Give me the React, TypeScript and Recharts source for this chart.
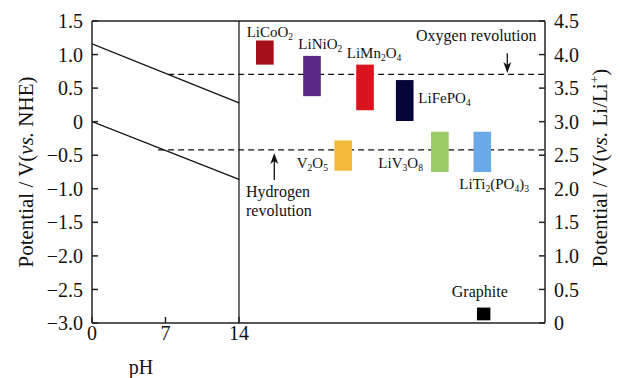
import {
  ComposedChart,
  XAxis,
  YAxis,
  Line,
  ReferenceLine,
  ReferenceArea,
  ReferenceDot,
  Label,
} from "recharts";

const phTicks = [0, 7, 14];
const nheTicks = [-3, -2.5, -2, -1.5, -1, -0.5, 0, 0.5, 1, 1.5];
const liTicks = [0, 0.5, 1, 1.5, 2, 2.5, 3, 3.5, 4, 4.5];

// water stability lines against pH (V vs NHE)
const oxygenLine = [
  { ph: 0, v: 1.16 },
  { ph: 14, v: 0.28 },
];
const hydrogenLine = [
  { ph: 0, v: 0 },
  { ph: 14, v: -0.86 },
];

// dashed levels (V vs NHE) and the pH where each leaves its sloped line
const levelValues = [0.705, -0.42];
const levelStart = [7.25, 6.3];

// electrode materials, potential ranges in V vs Li/Li+
const materials = [
  "LiCoO_{2}",
  "LiNiO_{2}",
  "LiMn_{2}O_{4}",
  "LiFePO_{4}",
  "V_{2}O_{5}",
  "LiV_{3}O_{8}",
  "LiTi_{2}(PO_{4})_{3}",
  "Graphite",
];
const materialSlot = [16.46, 20.95, 26.0, 29.78, 23.92, 33.13, 37.17, 37.3];
const materialTop = [4.21, 3.98, 3.85, 3.62, 2.72, 2.85, 2.85, 0.23];
const materialBottom = [3.85, 3.38, 3.17, 3.01, 2.27, 2.25, 2.25, 0.04];
const materialColors = [
  "#a50f1a",
  "#5b2a86",
  "#d9141e",
  "#050538",
  "#f4b93a",
  "#99cc66",
  "#6aaae8",
  "#000000",
];

// label anchors (x in pH units, y in V vs Li)
const labelX = [14.73, 19.65, 24.26, 31.08, 19.49, 27.27, 34.98, 34.26];
const labelY = [4.266, 4.083, 3.944, 3.273, 2.305, 2.305, 1.996, 0.391];

const X_MAX = 43.14;
const FONT = "'Liberation Serif', 'Times New Roman', serif";
const INK = "#111";
const AXIS = "#222";

type Seg = { t: string; k: string };

const parse = (s: string): Seg[] => {
  const out: Seg[] = [];
  const re = /([_^*])\{([^}]*)\}/g;
  let last = 0;
  let m: RegExpExecArray | null;
  while ((m = re.exec(s))) {
    if (m.index > last) out.push({ t: s.slice(last, m.index), k: "" });
    out.push({ t: m[2], k: m[1] });
    last = re.lastIndex;
  }
  if (last < s.length) out.push({ t: s.slice(last), k: "" });
  return out;
};

const Rich = ({ x, y, text, size, anchor = "start", rotate = false }: any) => {
  let shift = 0;
  return (
    <text
      x={x}
      y={y}
      fontSize={size}
      fontFamily={FONT}
      fill={INK}
      textAnchor={anchor}
      transform={rotate ? `rotate(-90 ${x} ${y})` : undefined}
    >
      {parse(text).map((s, i) => {
        const target = s.k === "_" ? size * 0.2 : s.k === "^" ? -size * 0.4 : 0;
        const dy = target - shift;
        shift = target;
        return (
          <tspan
            key={i}
            dy={dy}
            fontSize={s.k === "_" || s.k === "^" ? size * 0.64 : size}
            fontStyle={s.k === "*" ? "italic" : undefined}
          >
            {s.t}
          </tspan>
        );
      })}
    </text>
  );
};

const fmt = (v: number) => (v === 0 ? "0" : v.toFixed(1).replace("-", "\u2212"));

const tickStyle = { fontSize: 20, fill: INK, fontFamily: FONT };

export default function App() {
  return (
    <div style={{ position: "fixed", left: 0, top: 0, background: "#fff" }}>
      <ComposedChart width={620} height={378} margin={{ top: 21, right: 0, bottom: 0, left: 0 }}>
        <XAxis
          dataKey="ph"
          type="number"
          domain={[0, X_MAX]}
          allowDataOverflow
          ticks={phTicks}
          interval={0}
          height={55}
          tick={tickStyle}
          tickSize={-6}
          tickMargin={9}
          stroke={AXIS}
          strokeWidth={1.5}
        >
          <Label
            content={({ viewBox }: any) => (
              <Rich x={viewBox.x + 49} y={viewBox.y + 51} text="pH" size={20} anchor="middle" />
            )}
          />
        </XAxis>
        <YAxis
          yAxisId="nhe"
          type="number"
          domain={[-3, 1.5]}
          allowDataOverflow
          ticks={nheTicks}
          interval={0}
          width={92}
          tick={tickStyle}
          tickFormatter={fmt}
          tickSize={-6}
          tickMargin={15}
          stroke={AXIS}
          strokeWidth={1.5}
        >
          <Label
            content={({ viewBox }: any) => (
              <Rich
                x={viewBox.x + 33}
                y={viewBox.y + 151}
                text="Potential / V(*{vs.} NHE)"
                size={21}
                anchor="middle"
                rotate
              />
            )}
          />
        </YAxis>
        <YAxis
          yAxisId="li"
          type="number"
          orientation="right"
          domain={[0, 4.5]}
          allowDataOverflow
          ticks={liTicks}
          interval={0}
          width={75}
          tick={tickStyle}
          tickFormatter={fmt}
          tickSize={-6}
          tickMargin={15}
          stroke={AXIS}
          strokeWidth={1.5}
        >
          <Label
            content={({ viewBox }: any) => (
              <Rich
                x={viewBox.x + 62}
                y={viewBox.y + 147}
                text="Potential / V(*{vs.} Li/Li^{+})"
                size={21}
                anchor="middle"
                rotate
              />
            )}
          />
        </YAxis>

        <ReferenceLine yAxisId="nhe" y={1.5} stroke={AXIS} strokeWidth={1.5} />
        <ReferenceLine yAxisId="nhe" x={14} stroke={AXIS} strokeWidth={1.3} />

        <Line
          data={oxygenLine}
          dataKey="v"
          yAxisId="nhe"
          type="linear"
          stroke={INK}
          strokeWidth={1.3}
          dot={false}
          isAnimationActive={false}
        />
        <Line
          data={hydrogenLine}
          dataKey="v"
          yAxisId="nhe"
          type="linear"
          stroke={INK}
          strokeWidth={1.3}
          dot={false}
          isAnimationActive={false}
        />

        {levelValues.map((v, i) => (
          <ReferenceLine
            key={`lvl${i}`}
            yAxisId="nhe"
            segment={[
              { x: levelStart[i], y: v },
              { x: X_MAX, y: v },
            ]}
            stroke={INK}
            strokeWidth={1.2}
            strokeDasharray="6 4"
          />
        ))}

        {materials.map((m, i) => {
          const w = m === "Graphite" ? 0.64 : 0.84;
          return (
            <ReferenceArea
              key={m}
              yAxisId="li"
              x1={materialSlot[i] - w}
              x2={materialSlot[i] + w}
              y1={materialBottom[i]}
              y2={materialTop[i]}
              fill={materialColors[i]}
              fillOpacity={1}
              stroke="none"
              zIndex={450}
            />
          );
        })}

        {materials.map((m, i) => (
          <ReferenceDot
            key={`lab${m}`}
            yAxisId="li"
            x={labelX[i]}
            y={labelY[i]}
            r={0}
            zIndex={2000}
            shape={(p: any) => (
              <Rich x={p.cx} y={p.cy} text={m} size={m === "Graphite" ? 16 : 15} />
            )}
          />
        ))}

        {/* oxygen evolution annotation */}
        <ReferenceDot
          yAxisId="li"
          x={30.86}
          y={4.209}
          r={0}
          shape={(p: any) => <Rich x={p.cx} y={p.cy} text="Oxygen revolution" size={16} />}
        />
        <ReferenceLine
          yAxisId="li"
          segment={[
            { x: 39.55, y: 4.02 },
            { x: 39.55, y: 3.8 },
          ]}
          stroke={INK}
          strokeWidth={1.3}
        />
        <ReferenceDot
          yAxisId="li"
          x={39.55}
          y={3.725}
          r={0}
          shape={(p: any) => (
            <path d={`M${p.cx},${p.cy} l-4,-11 l4,3 l4,-3 z`} fill={INK} />
          )}
        />

        {/* hydrogen evolution annotation */}
        <ReferenceDot
          yAxisId="li"
          x={14.67}
          y={1.877}
          r={0}
          shape={(p: any) => <Rich x={p.cx} y={p.cy} text="Hydrogen" size={16} />}
        />
        <ReferenceDot
          yAxisId="li"
          x={14.67}
          y={1.594}
          r={0}
          shape={(p: any) => <Rich x={p.cx} y={p.cy} text="revolution" size={16} />}
        />
        <ReferenceLine
          yAxisId="li"
          segment={[
            { x: 17.36, y: 2.13 },
            { x: 17.36, y: 2.45 },
          ]}
          stroke={INK}
          strokeWidth={1.3}
        />
        <ReferenceDot
          yAxisId="li"
          x={17.36}
          y={2.533}
          r={0}
          shape={(p: any) => (
            <path d={`M${p.cx},${p.cy} l-4,11 l4,-3 l4,3 z`} fill={INK} />
          )}
        />
      </ComposedChart>
    </div>
  );
}
